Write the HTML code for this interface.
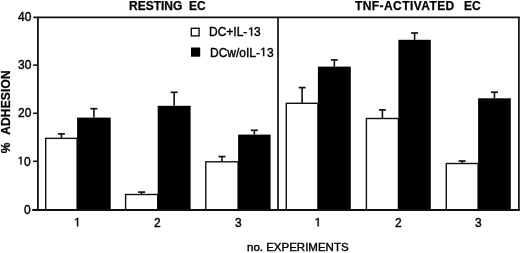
<!DOCTYPE html>
<html><head><meta charset="utf-8"><style>
html,body{margin:0;padding:0;background:#fff;}
body{width:520px;height:253px;overflow:hidden;position:relative;font-family:"Liberation Sans",sans-serif;color:#000;}
svg{position:absolute;left:0;top:0;}
.t{position:absolute;line-height:1;white-space:pre;will-change:transform;-webkit-text-stroke:0.4px #000;}
.b{font-weight:bold;-webkit-text-stroke:0.25px #000;}
</style></head><body>
<svg width="520" height="253" viewBox="0 0 520 253">
<line x1="61.40" y1="133.90" x2="61.40" y2="138.35" stroke="#111" stroke-width="1.6"/>
<line x1="57.90" y1="133.90" x2="64.90" y2="133.90" stroke="#111" stroke-width="1.7"/>
<rect x="45.70" y="138.35" width="31.40" height="71.65" fill="#fff" stroke="#111" stroke-width="1.4"/>
<line x1="93.90" y1="108.70" x2="93.90" y2="117.60" stroke="#111" stroke-width="1.6"/>
<line x1="90.40" y1="108.70" x2="97.40" y2="108.70" stroke="#111" stroke-width="1.7"/>
<rect x="77.10" y="117.60" width="33.60" height="92.40" fill="#000"/>
<line x1="141.65" y1="192.10" x2="141.65" y2="194.50" stroke="#111" stroke-width="1.6"/>
<line x1="138.15" y1="192.10" x2="145.15" y2="192.10" stroke="#111" stroke-width="1.7"/>
<rect x="125.60" y="194.50" width="32.10" height="15.50" fill="#fff" stroke="#111" stroke-width="1.4"/>
<line x1="174.15" y1="92.30" x2="174.15" y2="105.80" stroke="#111" stroke-width="1.6"/>
<line x1="170.65" y1="92.30" x2="177.65" y2="92.30" stroke="#111" stroke-width="1.7"/>
<rect x="157.70" y="105.80" width="32.90" height="104.20" fill="#000"/>
<line x1="221.95" y1="156.60" x2="221.95" y2="161.80" stroke="#111" stroke-width="1.6"/>
<line x1="218.45" y1="156.60" x2="225.45" y2="156.60" stroke="#111" stroke-width="1.7"/>
<rect x="205.80" y="161.80" width="32.30" height="48.20" fill="#fff" stroke="#111" stroke-width="1.4"/>
<line x1="254.35" y1="130.30" x2="254.35" y2="134.60" stroke="#111" stroke-width="1.6"/>
<line x1="250.85" y1="130.30" x2="257.85" y2="130.30" stroke="#111" stroke-width="1.7"/>
<rect x="238.10" y="134.60" width="32.50" height="75.40" fill="#000"/>
<line x1="302.10" y1="87.60" x2="302.10" y2="103.30" stroke="#111" stroke-width="1.6"/>
<line x1="298.60" y1="87.60" x2="305.60" y2="87.60" stroke="#111" stroke-width="1.7"/>
<rect x="286.30" y="103.30" width="31.60" height="106.70" fill="#fff" stroke="#111" stroke-width="1.4"/>
<line x1="334.35" y1="59.90" x2="334.35" y2="66.60" stroke="#111" stroke-width="1.6"/>
<line x1="330.85" y1="59.90" x2="337.85" y2="59.90" stroke="#111" stroke-width="1.7"/>
<rect x="317.90" y="66.60" width="32.90" height="143.40" fill="#000"/>
<line x1="382.40" y1="109.90" x2="382.40" y2="118.50" stroke="#111" stroke-width="1.6"/>
<line x1="378.90" y1="109.90" x2="385.90" y2="109.90" stroke="#111" stroke-width="1.7"/>
<rect x="366.40" y="118.50" width="32.00" height="91.50" fill="#fff" stroke="#111" stroke-width="1.4"/>
<line x1="414.60" y1="33.00" x2="414.60" y2="39.80" stroke="#111" stroke-width="1.6"/>
<line x1="411.10" y1="33.00" x2="418.10" y2="33.00" stroke="#111" stroke-width="1.7"/>
<rect x="398.40" y="39.80" width="32.40" height="170.20" fill="#000"/>
<line x1="462.20" y1="161.00" x2="462.20" y2="163.50" stroke="#111" stroke-width="1.6"/>
<line x1="458.70" y1="161.00" x2="465.70" y2="161.00" stroke="#111" stroke-width="1.7"/>
<rect x="446.30" y="163.50" width="31.80" height="46.50" fill="#fff" stroke="#111" stroke-width="1.4"/>
<line x1="494.45" y1="92.20" x2="494.45" y2="98.30" stroke="#111" stroke-width="1.6"/>
<line x1="490.95" y1="92.20" x2="497.95" y2="92.20" stroke="#111" stroke-width="1.7"/>
<rect x="478.10" y="98.30" width="32.70" height="111.70" fill="#000"/>
<line x1="33.3" y1="17.3" x2="519.8" y2="17.3" stroke="#111" stroke-width="1.8"/>
<line x1="32.2" y1="210.0" x2="519.8" y2="210.0" stroke="#111" stroke-width="2.0"/>
<line x1="37.9" y1="17.3" x2="37.9" y2="210.0" stroke="#111" stroke-width="1.8"/>
<line x1="518.9" y1="17.3" x2="518.9" y2="210.0" stroke="#111" stroke-width="1.7"/>
<line x1="278.0" y1="17.3" x2="278.0" y2="210.0" stroke="#111" stroke-width="1.7"/>
<line x1="33.2" y1="65.10" x2="37.9" y2="65.10" stroke="#111" stroke-width="1.6"/>
<line x1="33.2" y1="113.30" x2="37.9" y2="113.30" stroke="#111" stroke-width="1.6"/>
<line x1="33.2" y1="161.30" x2="37.9" y2="161.30" stroke="#111" stroke-width="1.6"/>
<rect x="191.3" y="28.3" width="7.8" height="7.6" fill="#fff" stroke="#111" stroke-width="1.4"/>
<rect x="191" y="47.5" width="9.2" height="9.2" fill="#000"/>
<path transform="translate(77.6,226.3) scale(1)" d="M-0.53,0L-0.53,-7.248L-2.393,-5.918L-2.393,-6.914L-0.443,-8.256L0.53,-8.256L0.53,0Z" fill="#000" stroke="#000" stroke-width="0.4" stroke-linejoin="miter"/>
<path transform="translate(318.15,226.3) scale(1)" d="M-0.53,0L-0.53,-7.248L-2.393,-5.918L-2.393,-6.914L-0.443,-8.256L0.53,-8.256L0.53,0Z" fill="#000" stroke="#000" stroke-width="0.4" stroke-linejoin="miter"/>
<path transform="translate(21.0,164.4) scale(0.93)" d="M-0.53,0L-0.53,-7.248L-2.393,-5.918L-2.393,-6.914L-0.443,-8.256L0.53,-8.256L0.53,0Z" fill="#000" stroke="#000" stroke-width="0.4" stroke-linejoin="miter"/>
<path transform="translate(251.6,35.7) scale(1)" d="M-0.53,0L-0.53,-7.248L-2.393,-5.918L-2.393,-6.914L-0.443,-8.256L0.53,-8.256L0.53,0Z" fill="#000" stroke="#000" stroke-width="0.4" stroke-linejoin="miter"/>
<path transform="translate(263.65,56.1) scale(1)" d="M-0.53,0L-0.53,-7.248L-2.393,-5.918L-2.393,-6.914L-0.443,-8.256L0.53,-8.256L0.53,0Z" fill="#000" stroke="#000" stroke-width="0.4" stroke-linejoin="miter"/>
</svg>
<div class="t b" style="left:128.65px;top:-0.50px;font-size:12px;">RESTING</div>
<div class="t b" style="left:188.55px;top:-0.50px;font-size:12px;">EC</div>
<div class="t b" style="left:354.57px;top:-0.50px;font-size:12px;letter-spacing:0.420px;">TNF-ACTIVATED</div>
<div class="t b" style="left:463.64px;top:-0.50px;font-size:12px;">EC</div>
<div class="t" style="left:208.71px;top:25.54px;font-size:12px;">DC+IL-</div>
<div class="t" style="left:253.50px;top:25.54px;font-size:12px;">3</div>
<div class="t" style="left:209.53px;top:46.62px;font-size:12px;">DCw/oIL-</div>
<div class="t" style="left:266.60px;top:46.62px;font-size:12px;">3</div>
<div class="t" style="left:17.65px;top:10.55px;font-size:12px;">40</div>
<div class="t" style="left:17.67px;top:58.61px;font-size:12px;">30</div>
<div class="t" style="left:17.62px;top:106.61px;font-size:12px;">20</div>
<div class="t" style="left:23.50px;top:155.63px;font-size:12px;">0</div>
<div class="t" style="left:23.72px;top:203.51px;font-size:12px;">0</div>
<div class="t" style="left:153.59px;top:216.53px;font-size:12px;">2</div>
<div class="t" style="left:234.59px;top:216.63px;font-size:12px;">3</div>
<div class="t" style="left:394.74px;top:216.53px;font-size:12px;">2</div>
<div class="t" style="left:474.64px;top:216.61px;font-size:12px;">3</div>
<div class="t" style="left:246.67px;top:241.65px;font-size:11.5px;">no. EXPERIMENTS</div>
<svg width="520" height="253" style="position:absolute;left:0;top:0;will-change:transform;"><g font-family="Liberation Sans" font-weight="bold" font-size="12" fill="#000" stroke="#000" stroke-width="0.25"><text transform="translate(9.8,153.2) rotate(-90)">%</text><text transform="translate(9.8,134.8) rotate(-90)" letter-spacing="0.15">ADHESION</text></g></svg>
</body></html>
